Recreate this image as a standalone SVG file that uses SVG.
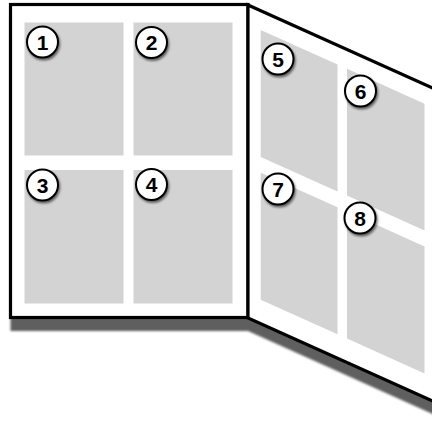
<svg xmlns="http://www.w3.org/2000/svg" width="432" height="421" viewBox="0 0 432 421">
  <defs>
    <filter id="pageShadow" x="-10%" y="-10%" width="120%" height="120%">
      <feGaussianBlur stdDeviation="1.2"/>
    </filter>
    <filter id="badgeShadow" x="-50%" y="-50%" width="200%" height="200%">
      <feDropShadow dx="1.2" dy="2" stdDeviation="1.3" flood-color="#000" flood-opacity="0.55"/>
    </filter>
  </defs>
  <style>
    .page { fill: #ffffff; stroke: #000000; stroke-width: 3.2; stroke-linejoin: miter; }
    .panel { fill: #d3d3d3; stroke: none; }
    .badge circle { fill: #ffffff; stroke: #000000; stroke-width: 2; filter: url(#badgeShadow); }
    .badge text { font-family: "Liberation Sans", Arial, sans-serif; font-weight: bold; font-size: 21px; text-anchor: middle; fill: #000000; }
  </style>

  <!-- shadow under both pages -->
  <polygon points="10.5,17.5 248,17.5 448,108 448,421 248,331 10.5,331" fill="#5f5f5f" filter="url(#pageShadow)"/>

  <!-- left page -->
  <g id="left-page">
    <rect class="page" x="10.5" y="4.5" width="237.5" height="313"/>
  </g>

  <!-- right page (skewed) -->
  <g id="right-page">
    <polygon class="page" points="248,5 446,94.1 446,407.1 248,318"/>
  </g>

  <!-- left page panels -->
  <g id="panel-1">
    <rect class="panel" x="24.5" y="22.5" width="99" height="133"/>
    <g class="badge"><circle cx="42.5" cy="42" r="15.5"/><text x="42.5" y="49.5">1</text></g>
  </g>
  <g id="panel-2">
    <rect class="panel" x="133.5" y="22.5" width="99" height="133"/>
    <g class="badge"><circle cx="151.5" cy="42.5" r="15.5"/><text x="151.5" y="50">2</text></g>
  </g>
  <g id="panel-3">
    <rect class="panel" x="24.5" y="170" width="99" height="133.5"/>
    <g class="badge"><circle cx="42.5" cy="185" r="15.5"/><text x="42.5" y="192.5">3</text></g>
  </g>
  <g id="panel-4">
    <rect class="panel" x="133.5" y="170" width="99" height="133.5"/>
    <g class="badge"><circle cx="151.5" cy="184.5" r="15.5"/><text x="151.5" y="192">4</text></g>
  </g>

  <!-- right page panels -->
  <g id="panel-5">
    <polygon class="panel" points="260.7,30 337.5,64.6 337.5,191.6 260.7,157"/>
    <g class="badge"><circle cx="278" cy="59" r="15.5"/><text x="278" y="66.5">5</text></g>
  </g>
  <g id="panel-6">
    <polygon class="panel" points="347,68.7 424.5,103.7 424.5,230.4 347,195.4"/>
    <g class="badge"><circle cx="360.5" cy="91" r="15.5"/><text x="360.5" y="98.5">6</text></g>
  </g>
  <g id="panel-7">
    <polygon class="panel" points="260.7,172.7 337.5,207.3 337.5,334.3 260.7,299.7"/>
    <g class="badge"><circle cx="278" cy="189" r="15.5"/><text x="278" y="196.5">7</text></g>
  </g>
  <g id="panel-8">
    <polygon class="panel" points="347,211.6 424.5,246.4 424.5,373.4 347,338.6"/>
    <g class="badge"><circle cx="360" cy="218" r="15.5"/><text x="360" y="225.5">8</text></g>
  </g>
</svg>
